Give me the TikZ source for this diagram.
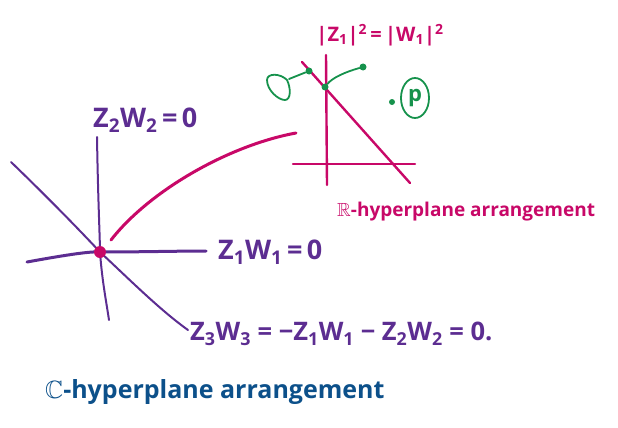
\documentclass[tikz,border=0pt]{standalone}
\usepackage{amssymb}
\usepackage{fontspec}
\setmainfont{Open Sans}
\usetikzlibrary{calc,shapes.geometric}

\definecolor{hypviolet}{RGB}{92,45,145}
\definecolor{hypred}{RGB}{200,8,104}
\definecolor{hypgreen}{RGB}{22,146,76}
\definecolor{hypblue}{RGB}{12,80,138}

\begin{document}
\begin{tikzpicture}[x=1pt, y=-1pt,
  line cap=round, line join=round,
  cline/.style={hypviolet, line width=2pt},
  rline/.style={hypred, line width=3pt},
  gline/.style={hypgreen, line width=1.8pt},
  gdot/.style={circle, fill=hypgreen, inner sep=0pt, minimum size=7pt},
  eqlabel/.style={hypviolet, inner sep=0pt, anchor=west, font=\fontsize{27}{27}\selectfont\bfseries},
  caption/.style={inner sep=0pt, anchor=west}
]
  \useasboundingbox (0,0) rectangle (618,428);

  % complex arrangement
  \coordinate (o) at (100,252);
  \draw[cline, line width=3pt] (27,262) .. controls (60,256) and (90,251) .. (o)
    .. controls (140,252) and (180,251) .. (206,251);
  \draw[cline] (97,137) .. controls (98,200) and (100,240) .. (o)
    .. controls (102,280) and (106,300) .. (109,320);
  \draw[cline] (11,162) .. controls (40,190) and (70,220) .. (o)
    .. controls (130,280) and (160,310) .. (188,330);
  \node[circle, fill=hypred, inner sep=0pt, minimum size=12pt] (origin) at (o) {};

  \node[eqlabel] (l2) at (93,120) {Z\textsubscript{2}W\textsubscript{2}\,=\,0};
  \node[eqlabel] (l1) at (218,252) {Z\textsubscript{1}W\textsubscript{1}\,=\,0};
  \node[eqlabel, font=\fontsize{25.5}{26}\selectfont\bfseries] (l3) at (190,334)
    {Z\textsubscript{3}W\textsubscript{3} = −Z\textsubscript{1}W\textsubscript{1} − Z\textsubscript{2}W\textsubscript{2} = 0.};
  \node[caption, hypblue, font=\fontsize{25}{25}\selectfont\bfseries] (cc) at (45,392)
    {$\mathbb{C}$-hyperplane arrangement};

  % real picture
  \coordinate (rstart) at (111,240);
  \coordinate (rend) at (296,133);
  \draw[rline] (rstart) .. controls (150,190) and (230,145) .. (rend);

  \coordinate (vtop) at (326,55);
  \coordinate (vbot) at (327,185);
  \coordinate (hleft) at (293,164);
  \coordinate (hright) at (415,164);
  \draw[rline, line width=2.4pt] (vtop) -- (vbot);
  \draw[rline, line width=2.4pt] (hleft) -- (hright);
  \draw[rline, line width=2.4pt] (302,62) -- (410,183);

  \node[hypred, inner sep=0pt, font=\fontsize{20}{20}\selectfont\bfseries] (rlabel) at (380,35)
    {|Z\textsubscript{1}|\textsuperscript{2}\,=\,|W\textsubscript{1}|\textsuperscript{2}};
  \node[caption, hypred, font=\fontsize{19}{19}\selectfont\bfseries] (rr) at (337,212)
    {$\mathbb{R}$-hyperplane arrangement};

  % green points and path
  \node[gdot] (g1) at (309,71) {};
  \node[gdot] (g2) at (325,87) {};
  \node[gdot] (g3) at (363,67) {};
  \node[gdot, minimum size=6pt] (g4) at (392,102) {};
  \draw[gline] (g1) -- (289,79);
  \draw[gline] (287,80) .. controls (280,73) and (267,73) .. (267,80)
    .. controls (267,90) and (278,100) .. (285,100) .. controls (291,100) and (291,88) .. (287,80);
  \draw[gline] (g2) .. controls (332,78) and (345,72) .. (g3);
  \node[draw=hypgreen, line width=1.8pt, ellipse, inner sep=1pt, minimum width=28pt, minimum height=40pt,
    text=hypgreen, font=\fontsize{22}{22}\selectfont\bfseries] (p) at (415,98) {p};
\end{tikzpicture}
\end{document}
